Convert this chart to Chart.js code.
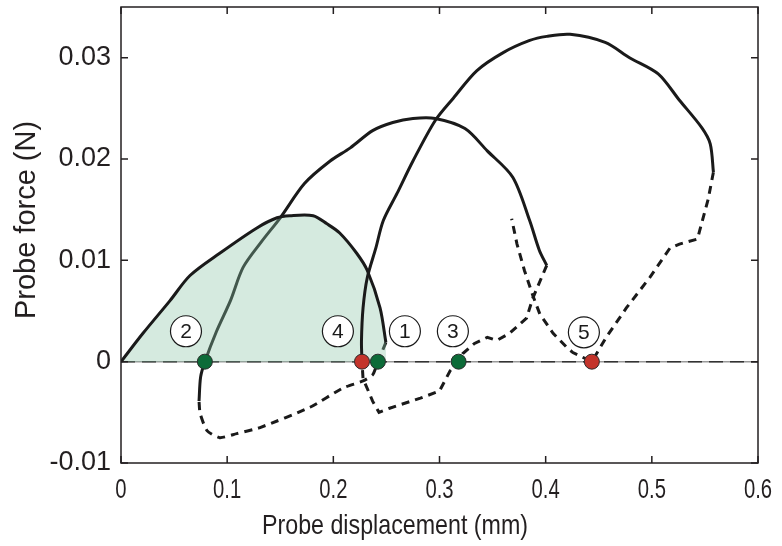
<!DOCTYPE html>
<html>
<head>
<meta charset="utf-8">
<script src="https://cdn.jsdelivr.net/npm/chart.js"></script>
<style>
  body { margin: 0; background: #fff; }
  #grafico { display: block; }
</style>
</head>
<body>
<canvas id="grafico" width="782" height="546"></canvas>
<script>
// ejes
const xTicks = [0, 0.1, 0.2, 0.3, 0.4, 0.5, 0.6]
const xTickLabels = ['0', '0.1', '0.2', '0.3', '0.4', '0.5', '0.6']
const yTicks = [-0.01, 0, 0.01, 0.02, 0.03]
const yTickLabels = ['-0.01', '0', '0.01', '0.02', '0.03']

// ciclo 1 (area sombreada)
const cargaAX = [0, 0.0207, 0.046, 0.065, 0.093, 0.128, 0.147, 0.159, 0.181, 0.194, 0.206, 0.222, 0.232, 0.244, 0.2495]
const cargaAY = [0, 0.0028, 0.006, 0.0085, 0.0107, 0.0132, 0.0142, 0.0144, 0.0144, 0.0136, 0.0127, 0.0107, 0.009, 0.0053, 0.0019]
const descargaAX = [0.2495, 0.242, 0.237, 0.228, 0.209, 0.178, 0.131, 0.109, 0.093, 0.081, 0.0745, 0.0735]
const descargaAY = [0.0019, 0, -0.0013, -0.0019, -0.0026, -0.0045, -0.0065, -0.0071, -0.0075, -0.0068, -0.0051, -0.0039]

// ciclo 2
const cargaBX = [0.0735, 0.075, 0.079, 0.090, 0.103, 0.115, 0.132, 0.150, 0.173, 0.197, 0.216, 0.237, 0.256, 0.275, 0.296, 0.324, 0.345, 0.369, 0.385, 0.394, 0.401]
const cargaBY = [-0.0039, -0.0015, 0, 0.003, 0.006, 0.0093, 0.0118, 0.0142, 0.0176, 0.0198, 0.0211, 0.0228, 0.0236, 0.024, 0.024, 0.023, 0.0208, 0.0182, 0.0139, 0.011, 0.0095]
const descargaBX = [0.401, 0.388, 0.382, 0.366, 0.354, 0.345, 0.333, 0.322, 0.318, 0.310, 0.300, 0.282, 0.253, 0.243, 0.237, 0.233, 0.228, 0.227]
const descargaBY = [0.0095, 0.0063, 0.0043, 0.0028, 0.0021, 0.0024, 0.0018, 0.0008, 0, -0.0009, -0.0029, -0.0036, -0.0046, -0.005, -0.0039, -0.0029, -0.0017, 0]

// ciclo 3
const cargaCX = [0.227, 0.2265, 0.228, 0.232, 0.24, 0.247, 0.26, 0.275, 0.296, 0.313, 0.335, 0.36, 0.385, 0.401, 0.423, 0.456, 0.479, 0.506, 0.526, 0.547, 0.555, 0.558]
const cargaCY = [0, 0.002, 0.0053, 0.0083, 0.0112, 0.0139, 0.0166, 0.0198, 0.0238, 0.026, 0.0287, 0.0305, 0.0317, 0.0321, 0.0323, 0.0315, 0.030, 0.0284, 0.0258, 0.0231, 0.0215, 0.0187]
const descargaCX = [0.558, 0.553, 0.545, 0.543, 0.526, 0.517, 0.498, 0.476, 0.457, 0.4435, 0.4256, 0.42, 0.407, 0.3945, 0.388, 0.380, 0.373, 0.368]
const descargaCY = [0.0187, 0.016, 0.0129, 0.0121, 0.0116, 0.0112, 0.0083, 0.0053, 0.0024, 0, 0.0009, 0.0014, 0.0028, 0.0047, 0.0065, 0.009, 0.0116, 0.0141]

// puntos de contacto (verde) y despegue (rojo)
const verdesX = [0.079, 0.242, 0.318]
const rojosX = [0.227, 0.4435]

// etiquetas numeradas
const etiquetas = ['1', '2', '3', '4', '5']
const etiquetasX = [0.2674, 0.0612, 0.3126, 0.2043, 0.436]
const etiquetasY = [0.003, 0.003, 0.003, 0.003, 0.0029]

const ceroX = [0, 0.6]
const ceroY = [0, 0]

function puntos(xs, ys) {
    return xs.map((x, i) => ({ x: x, y: ys[i] }))
}

const negro = '#1a1a1a'
const tinta = '#231f20'

function linea(xs, ys, discontinua, curva) {
    return {
        data: puntos(xs, ys),
        showLine: true,
        borderColor: negro,
        borderWidth: 3,
        borderDash: discontinua ? [8, 6] : [],
        pointRadius: 0,
        tension: curva,
        fill: false
    }
}

const cargaA = linea(cargaAX, cargaAY, false, 0.3)
cargaA.fill = 'origin'
cargaA.backgroundColor = 'rgba(138, 198, 166, 0.36)'

// marco, marcas interiores, textos del eje x, titulos y numeros de las etiquetas
const marco = {
    id: 'marco',
    afterDraw(chart) {
        const ctx = chart.ctx
        const a = chart.chartArea
        const sx = chart.scales.x
        const sy = chart.scales.y
        ctx.save()
        ctx.strokeStyle = tinta
        ctx.lineWidth = 1.5
        ctx.strokeRect(a.left, a.top, a.right - a.left, a.bottom - a.top)
        ctx.beginPath()
        xTicks.forEach(v => {
            const px = sx.getPixelForValue(v)
            ctx.moveTo(px, a.bottom); ctx.lineTo(px, a.bottom - 7)
            ctx.moveTo(px, a.top); ctx.lineTo(px, a.top + 7)
        })
        yTicks.forEach(v => {
            const py = sy.getPixelForValue(v)
            ctx.moveTo(a.left, py); ctx.lineTo(a.left + 7, py)
            ctx.moveTo(a.right, py); ctx.lineTo(a.right - 7, py)
        })
        ctx.stroke()

        ctx.fillStyle = negro
        ctx.textAlign = 'center'
        ctx.textBaseline = 'middle'
        ctx.font = '21px "Liberation Sans", Arial, sans-serif'
        etiquetas.forEach((t, i) => {
            ctx.fillText(t, sx.getPixelForValue(etiquetasX[i]), sy.getPixelForValue(etiquetasY[i]) + 1)
        })

        // textos estrechos del eje x
        ctx.fillStyle = tinta
        ctx.font = '27px "Liberation Sans", Arial, sans-serif'
        xTicks.forEach((v, i) => {
            const px = sx.getPixelForValue(v)
            ctx.save()
            ctx.translate(px, 491)
            ctx.scale(0.75, 1)
            ctx.fillText(xTickLabels[i], 0, 0)
            ctx.restore()
        })
        ctx.save()
        ctx.translate(395, 526)
        ctx.scale(0.83, 1)
        ctx.font = '28px "Liberation Sans", Arial, sans-serif'
        ctx.fillText('Probe displacement (mm)', 0, 0)
        ctx.restore()

        ctx.translate(27, 220)
        ctx.rotate(-Math.PI / 2)
        ctx.font = '29px "Liberation Sans", Arial, sans-serif'
        ctx.fillText('Probe force (N)', 0, 0)
        ctx.restore()
    }
}

new Chart(document.getElementById('grafico'), {
    type: 'scatter',
    data: {
        datasets: [
            {
                data: puntos(etiquetasX, etiquetasY),
                pointRadius: 15.5,
                pointBackgroundColor: '#ffffff',
                pointBorderColor: negro,
                pointBorderWidth: 1.2
            },
            {
                data: puntos(verdesX, verdesX.map(() => 0)),
                pointRadius: 7.5,
                pointBackgroundColor: '#0c6b38',
                pointBorderColor: '#2b2b2b',
                pointBorderWidth: 1
            },
            {
                data: puntos(rojosX, rojosX.map(() => 0)),
                pointRadius: 7.5,
                pointBackgroundColor: '#c3342b',
                pointBorderColor: '#2b2b2b',
                pointBorderWidth: 1
            },
            linea(cargaCX, cargaCY, false, 0.3),
            linea(descargaCX, descargaCY, true, 0),
            cargaA,
            linea(descargaAX, descargaAY, true, 0.2),
            linea(cargaBX, cargaBY, false, 0.3),
            linea(descargaBX, descargaBY, true, 0),
            {
                data: puntos(ceroX, ceroY),
                showLine: true,
                borderColor: '#333333',
                borderWidth: 1.5,
                borderDash: [14, 7],
                pointRadius: 0
            },
            {
                data: puntos(ceroX, ceroY),
                showLine: true,
                borderColor: '#9a9a9a',
                borderWidth: 1.5,
                pointRadius: 0
            }
        ]
    },
    options: {
        responsive: false,
        animation: false,
        layout: { autoPadding: false, padding: { top: 7, right: 24, left: 0, bottom: 0 } },
        plugins: {
            legend: { display: false },
            tooltip: { enabled: false }
        },
        scales: {
            x: {
                type: 'linear',
                min: 0,
                max: 0.6,
                afterBuildTicks: s => { s.ticks = xTicks.map(v => ({ value: v })) },
                afterFit: s => { s.height = 83; s.paddingLeft = 0; s.paddingRight = 0 },
                grid: { display: false, drawTicks: false },
                border: { display: false },
                ticks: { display: false }
            },
            y: {
                type: 'linear',
                min: -0.01,
                max: 0.035,
                afterBuildTicks: s => { s.ticks = yTicks.map(v => ({ value: v })) },
                afterFit: s => { s.width = 121; s.paddingTop = 0; s.paddingBottom = 0 },
                grid: { display: false, drawTicks: false },
                border: { display: false },
                ticks: {
                    padding: 10,
                    color: tinta,
                    font: { family: '"Liberation Sans", Arial, sans-serif', size: 27 },
                    callback: (v, i) => yTickLabels[i]
                }
            }
        }
    },
    plugins: [marco]
})
</script>
</body>
</html>
